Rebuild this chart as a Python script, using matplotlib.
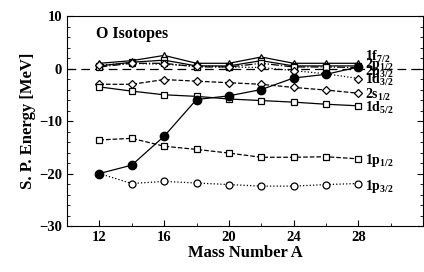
import matplotlib
matplotlib.use("Agg")
import matplotlib.pyplot as plt

plt.rcParams["font.family"] = ["Liberation Serif", "DejaVu Serif"]
plt.rcParams["font.weight"] = "bold"
plt.rcParams["mathtext.fontset"] = "custom"
plt.rcParams["mathtext.rm"] = "Liberation Serif:bold"
plt.rcParams["mathtext.bf"] = "Liberation Serif:bold"
plt.rcParams["mathtext.it"] = "Liberation Serif:bold"

A = [12, 14, 16, 18, 20, 22, 24, 26, 28]
f72 = [1.0, 1.5, 2.5, 1.0, 1.0, 2.2, 1.0, 1.0, 1.0]
p12 = [0.5, 1.2, 1.6, 0.5, 0.5, 1.5, 0.5, 0.5, 0.5]
p32 = [0.3, 1.0, 1.0, 0.3, 0.3, 1.0, 0.3, 0.3, 0.2]
d32 = [0.7, 1.0, 0.8, 0.5, 0.3, 0.2, -0.4, -1.0, -1.9]
s12 = [-3.0, -3.0, -2.1, -2.4, -2.7, -3.0, -3.6, -4.1, -4.7]
d52 = [-3.5, -4.3, -5.0, -5.3, -5.8, -6.1, -6.4, -6.8, -7.1]
p12_1 = [-13.6, -13.3, -14.8, -15.4, -16.1, -16.9, -16.9, -16.8, -17.2]
p32_1 = [-20.0, -21.9, -21.5, -21.8, -22.1, -22.4, -22.4, -22.1, -21.9]
fermi = [-20.0, -18.4, -12.9, -5.9, -5.2, -4.0, -1.8, -1.1, 0.3]

labels = [r"$1f_{7/2}$", r"$2p_{1/2}$", r"$2p_{3/2}$", r"$1d_{3/2}$",
          r"$2s_{1/2}$", r"$1d_{5/2}$", r"$1p_{1/2}$", r"$1p_{3/2}$"]
label_y = [2.3, 0.7, -0.6, -2.2, -5.0, -7.6, -17.6, -22.4]

fig = plt.figure(figsize=(4.24, 2.72), dpi=100)
ax = fig.add_axes([0.158, 0.169, 0.84, 0.772])

mk = dict(mfc="white", mec="black", ms=5, mew=0.9, color="black", lw=0.9)
ax.plot(A, f72, "-", marker="^", **mk)
ax.plot(A, p12, "-", marker="s", **mk)
ax.plot(A, p32, "-.", marker="s", **mk)
ax.plot(A, d32, ":", marker="D", **{**mk, "ms": 4.5})
ax.plot(A, s12, "--", marker="D", **{**mk, "ms": 4.5})
ax.plot(A, d52, "-", marker="s", **mk)
ax.plot(A, p12_1, "--", marker="s", **mk)
ax.plot(A, p32_1, ":", marker="o", **mk)
ax.plot(A, fermi, "-", marker="o", color="black", mfc="black", mec="black",
        ms=6, lw=0.9)

ax.axhline(0, color="black", ls=(0, (7, 4)), lw=0.9, zorder=0)

for lab, y in zip(labels, label_y):
    ax.text(28.4, y, lab, fontsize=10, fontweight="bold", va="center", ha="left")

ax.text(11.8, 6.5, "O Isotopes", fontsize=11.5, fontweight="bold", va="center")

ax.set_xlim(10, 32)
ax.set_ylim(-30, 10)
ax.set_xticks([12, 16, 20, 24, 28])
ax.set_xticks(range(10, 33, 2), minor=True)
ax.set_yticks([-30, -20, -10, 0, 10])
ax.set_yticks(range(-30, 11, 2), minor=True)
ax.set_yticklabels(["\u221230", "\u221220", "\u221210", "0", "10"])
ax.tick_params(which="both", direction="in", right=True, labelsize=10.5)
ax.tick_params(which="major", length=4)
ax.tick_params(which="minor", length=2.5)
for lbl in ax.get_xticklabels() + ax.get_yticklabels():
    lbl.set_fontweight("bold")
ax.set_xlabel("Mass Number A", fontsize=12, fontweight="bold", labelpad=1)
ax.set_ylabel("S. P. Energy [MeV]", fontsize=12, fontweight="bold", labelpad=2)

fig.savefig("out.png", dpi=100)
